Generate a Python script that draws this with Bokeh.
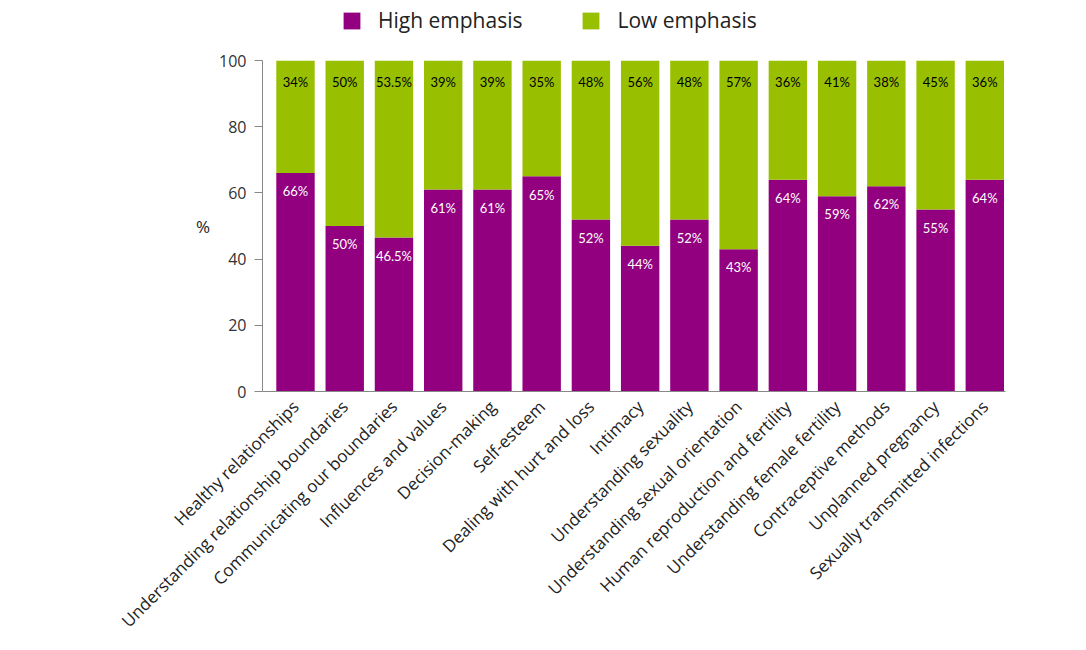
import numpy as np
from bokeh.plotting import figure
from bokeh.layouts import column
from bokeh.models import (ColumnDataSource, FixedTicker, Legend, LegendItem, Range1d)
from bokeh.core.properties import value
from bokeh.embed import file_html
from bokeh.resources import INLINE

categories = [
    "Healthy relationships",
    "Understanding relationship boundaries",
    "Communicating our boundaries",
    "Influences and values",
    "Decision-making",
    "Self-esteem",
    "Dealing with hurt and loss",
    "Intimacy",
    "Understanding sexuality",
    "Understanding sexual orientation",
    "Human reproduction and fertility",
    "Understanding female fertility",
    "Contraceptive methods",
    "Unplanned pregnancy",
    "Sexually transmitted infections",
]
high = [66, 50, 46.5, 61, 61, 65, 52, 44, 52, 43, 64, 59, 62, 55, 64]
low = [34, 50, 53.5, 39, 39, 35, 48, 56, 48, 57, 36, 41, 38, 45, 36]
series_names = ["High emphasis", "Low emphasis"]
y_ticks = [0, 20, 40, 60, 80, 100]

PURPLE = "#920080"
GREEN = "#99C000"
FONT = "Open Sans"
NUMFONT = "Lato"
W = 1080

def fmt(v):
    return (f"{v:g}") + "%"

x = list(range(len(categories)))
src = ColumnDataSource(dict(
    x=x, high=high, low=low,
    high_lab=[fmt(v) for v in high], low_lab=[fmt(v) for v in low],
    high_y=[h - 5.5 for h in high],
    low_y=[h + l - 6.6 for h, l in zip(high, low)],
))

# ---- legend strip ----
lg = figure(width=W, height=45, output_backend="svg", toolbar_location=None,
            x_range=Range1d(0, 1), y_range=Range1d(0, 1),
            min_border=0)
lg.axis.visible = False
lg.grid.visible = False
lg.outline_line_color = None
# legend swatch renderers (their bars lie outside the visible range)
r1 = lg.vbar(x=[-10], top=[-10], bottom=[-11], width=0.1, color=PURPLE, line_color=None)
r2 = lg.vbar(x=[-10], top=[-10], bottom=[-11], width=0.1, color=GREEN, line_color=None)
legend = Legend(items=[LegendItem(label=series_names[0], renderers=[r1]),
                       LegendItem(label=series_names[1], renderers=[r2])],
                orientation="horizontal", location=(79, 11),
                glyph_width=21, glyph_height=21, label_standoff=16, spacing=58,
                label_text_font=FONT, label_text_font_size="21px",
                label_text_color="#222222", border_line_color=None,
                background_fill_alpha=0, padding=0, margin=0)
lg.add_layout(legend)

# ---- main chart ----
p = figure(width=W, height=600, output_backend="svg", toolbar_location=None,
           x_range=Range1d(-0.67, 14.42), y_range=Range1d(0, 100),
           min_border_left=262, min_border_right=W - 1005, min_border_top=15,
           min_border_bottom=254)
p.outline_line_color = None
p.grid.visible = False

rs = p.vbar_stack(["high", "low"], x="x", width=0.78, color=[PURPLE, GREEN],
                  line_color=None, source=src)

p.text(x="x", y="high_y", text="high_lab", source=src, text_color="white",
       text_font=value(NUMFONT), text_font_size="13px", text_align="center",
       text_baseline="middle")
p.text(x="x", y="low_y", text="low_lab", source=src, text_color="black",
       text_font=value(NUMFONT), text_font_size="13px", text_align="center",
       text_baseline="middle")

p.yaxis.ticker = FixedTicker(ticks=y_ticks)
p.yaxis.axis_line_color = "#888888"
p.yaxis.major_tick_line_color = "#888888"
p.yaxis.major_tick_out = 8
p.yaxis.major_tick_in = 0
p.yaxis.minor_tick_line_color = None
p.yaxis.major_label_text_font = FONT
p.yaxis.major_label_text_font_size = "16px"
p.yaxis.major_label_text_color = "#333333"
p.yaxis.major_label_standoff = 8
p.yaxis.axis_label = "%"
p.yaxis.axis_label_text_font = FONT
p.yaxis.axis_label_text_font_size = "17px"
p.yaxis.axis_label_text_font_style = "normal"
p.yaxis.axis_label_text_color = "#222222"
p.yaxis.axis_label_standoff = 6
if hasattr(p.yaxis[0], "axis_label_orientation"):
    p.yaxis.axis_label_orientation = "horizontal"

p.xaxis.ticker = FixedTicker(ticks=x)
p.xaxis.major_label_overrides = {i: c for i, c in enumerate(categories)}
p.xaxis.major_label_orientation = np.pi / 4
p.xaxis.axis_line_color = "#888888"
p.xaxis.major_tick_line_color = None
p.xaxis.minor_tick_line_color = None
p.xaxis.major_label_text_font = FONT
p.xaxis.major_label_text_font_size = "17px"
p.xaxis.major_label_text_color = "#222222"
p.xaxis.major_label_standoff = 6

layout = column(lg, p, spacing=0)
open("out.html", "w").write(file_html(layout, INLINE))
